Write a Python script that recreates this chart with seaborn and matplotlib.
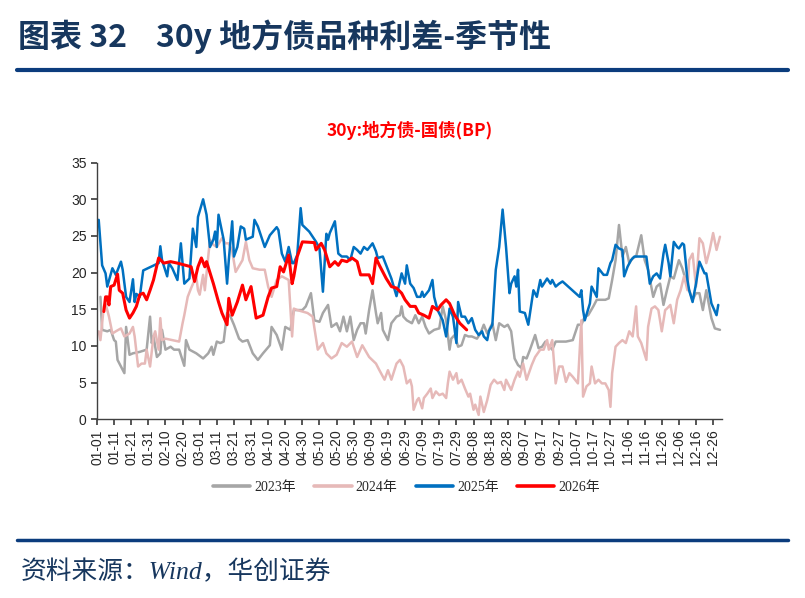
import numpy as np
import pandas as pd
import seaborn as sns
import matplotlib.pyplot as plt
import matplotlib.dates as mdates
from matplotlib.lines import Line2D

# 日付は 01-01 からの経過日数（x軸は閏年2024の暦で表示）
days_2023 = [2, 3, 6, 8, 10, 11, 12, 14, 16, 17, 19, 21, 25, 29, 31, 32, 33, 35, 37, 38, 40, 43, 45, 48,
             51, 52, 54, 58, 62, 65, 67, 68, 70, 72, 74, 76, 78, 80, 83, 85, 88, 91, 94, 97, 101, 102,
             105, 108, 110, 113, 115, 117, 120, 122, 125, 127, 130, 132, 135, 137, 140, 142, 144, 146,
             148, 150, 152, 154, 156, 157, 159, 161, 163, 164, 166, 167, 170, 172, 175, 177, 178, 179,
             181, 184, 186, 188, 190, 192, 194, 197, 200, 202, 204, 206, 207, 209, 211, 213, 215, 217,
             219, 222, 224, 226, 228, 231, 233, 235, 238, 240, 242, 244, 246, 248, 249, 251, 253, 256,
             258, 260, 262, 266, 268, 274, 278, 281, 283, 285, 287, 290, 292, 297, 299, 301, 303, 305,
             307, 309, 311, 313, 315, 318, 320, 322, 325, 327, 329, 331, 333, 335, 337, 340, 342, 344,
             346, 348, 350, 352, 354, 356, 359, 361, 364]
vals_2023 = [16.7, 12.2, 12, 12.2, 10.8, 10.6, 8.1, 7.2, 6.3, 12.6, 8.8, 9, 9.2, 9.5, 14, 10.4, 11.3, 8.5,
             9, 12.2, 9.5, 9.9, 9.5, 9.5, 7.3, 10.8, 9.5, 9, 8.3, 9, 9.9, 8.8, 10.6, 10.4, 10.6, 14.5,
             14, 12.9, 11, 10.6, 10.8, 9, 8.1, 9, 10.1, 12.6, 11.5, 9.5, 12.6, 12.2, 14.9, 14.9, 14.9,
             15.4, 17.2, 13.5, 13.3, 14.5, 15.6, 12.6, 13.1, 12, 14, 12, 14, 10.8, 12.2, 13.1, 13.1,
             11.7, 14.9, 17.6, 14.5, 13.1, 14.5, 12.2, 10.8, 13.1, 14, 14.2, 15.4, 14, 13.5, 13.1, 14.2,
             13.1, 14, 12.6, 11.7, 12.2, 12.4, 15.4, 13.5, 9.5, 11, 11.5, 9.9, 10.1, 11.5, 11.3, 11.3,
             11, 11.7, 12.9, 11.7, 13.1, 10.8, 13.1, 12.6, 12.9, 12, 8.3, 7.4, 7, 8.5, 8.3, 9.5, 11.5,
             9.7, 9.9, 10.6, 9.5, 10.6, 10.6, 10.8, 12.9, 12.9, 14, 14.2, 15.4, 16.3, 16.3, 16.5, 19,
             21.7, 26.5, 22.2, 23.5, 21.3, 22, 22.2, 25.1, 21.7, 20.4, 16.7, 18.1, 18.5, 15.6, 17.6,
             19.5, 19.2, 21.7, 20.6, 19, 17.6, 16.3, 17.2, 17.2, 14.9, 17.6, 13.8, 12.4, 12.2]

days_2024 = [1, 2, 4, 5, 7, 9, 11, 14, 16, 19, 21, 22, 24, 26, 28, 29, 31, 33, 34, 36, 37, 38, 40, 48,
             50, 51, 53, 55, 58, 59, 60, 62, 63, 64, 66, 68, 70, 73, 75, 77, 79, 81, 85, 87, 89, 91, 95,
             98, 100, 102, 105, 108, 112, 114, 115, 117, 120, 123, 126, 129, 132, 134, 137, 140, 143,
             146, 149, 152, 155, 159, 163, 165, 168, 170, 172, 175, 177, 179, 181, 183, 184, 185, 187,
             188, 190, 191, 193, 195, 196, 198, 200, 202, 204, 205, 206, 208, 210, 211, 213, 215, 217,
             218, 220, 221, 223, 224, 226, 228, 230, 232, 234, 236, 238, 239, 242, 244, 246, 247, 249,
             251, 254, 256, 259, 261, 263, 264, 266, 268, 270, 272, 274, 276, 278, 281, 283, 284, 286,
             288, 289, 291, 293, 295, 297, 299, 300, 301, 303, 305, 307, 309, 311, 313, 315, 316, 318,
             321, 322, 324, 326, 328, 330, 332, 333, 335, 337, 339, 341, 343, 345, 346, 348, 350, 352,
             354, 356, 358, 360, 362, 364]
vals_2024 = [12, 10.8, 15.4, 15.8, 14, 11.7, 12, 12.4, 11.3, 11.7, 12.6, 11.3, 7.2, 7.6, 7.6, 9.5, 7.2,
             11.3, 12, 9.5, 13.8, 10.8, 11, 10.6, 13.1, 14.2, 16.7, 17.9, 19.5, 17.6, 17, 19.7, 17.6,
             19.9, 24.5, 23.8, 23.5, 24.7, 24, 24, 22.9, 20.1, 21.7, 24.2, 21.7, 20.6, 20.4, 20.4, 18.1,
             16.7, 19, 19.5, 19, 11.3, 15.1, 14.9, 14.7, 14.5, 14, 9.5, 10.4, 9, 8.3, 8.8, 10.4, 9.9,
             10.6, 8.5, 10.1, 8.5, 7.6, 6.7, 5.4, 6.7, 5.4, 7.6, 8.1, 7.2, 4.9, 5.4, 4.5, 1.3, 2.6, 2.9,
             1.5, 2.9, 3.5, 4.2, 2.9, 3.8, 3.3, 3.5, 2.9, 4.9, 6.5, 5.4, 6.3, 4.9, 5.4, 4.2, 3.1, 3.5,
             1.3, 2, 0.6, 3.1, 1, 2.6, 4.7, 5.4, 4.9, 5.1, 4, 5.4, 4, 5.4, 6.5, 5.8, 7.6, 5.4, 7.4, 8.5,
             9.5, 9.5, 10.8, 9.5, 10.8, 4.9, 7.2, 7.2, 5.1, 6.3, 5.8, 4.9, 13.5, 3.1, 4.5, 4.9, 7.2,
             4.9, 5.4, 4.9, 4.9, 4, 1.7, 6.3, 9.9, 10.4, 10.8, 10.4, 12, 11.3, 15.4, 11.3, 10.4, 8.1,
             12.6, 15.1, 15.4, 14.9, 12, 14.9, 15.1, 15.6, 13.1, 16.3, 17.6, 19.5, 17.6, 21.7, 22.6,
             18.1, 24.7, 24, 21.3, 23.1, 25.4, 23.1, 24.9]

days_2025 = [1, 3, 5, 6, 9, 11, 14, 15, 17, 19, 21, 22, 23, 25, 27, 36, 37, 38, 41, 42, 44, 47, 49, 51,
             54, 56, 58, 59, 62, 64, 66, 68, 69, 70, 71, 74, 76, 77, 79, 80, 82, 84, 86, 87, 91, 92, 94,
             98, 101, 105, 106, 108, 110, 112, 114, 115, 117, 119, 120, 124, 128, 130, 132, 134, 135,
             136, 139, 141, 143, 146, 148, 150, 152, 154, 156, 158, 161, 163, 164, 167, 169, 172, 175,
             178, 180, 181, 183, 185, 187, 189, 190, 191, 194, 196, 197, 199, 202, 204, 206, 208, 210,
             211, 213, 215, 217, 219, 221, 223, 225, 226, 228, 229, 231, 233, 235, 237, 239, 241, 242,
             244, 245, 246, 247, 250, 252, 255, 257, 259, 260, 263, 265, 266, 268, 270, 272, 282, 283,
             284, 285, 288, 289, 292, 293, 296, 298, 300, 301, 303, 305, 307, 308, 310, 312, 314, 321,
             323, 325, 327, 329, 331, 332, 334, 335, 337, 339, 340, 342, 343, 345, 346, 348, 350, 352,
             355, 356, 359, 362, 363]
vals_2025 = [27.2, 21, 19.9, 18.1, 20.6, 19.7, 21.5, 20.4, 16.7, 16, 19.1, 16, 17.1, 16.7, 20.3, 21.3,
             23.6, 21.7, 19.5, 21.3, 20.6, 19, 24, 18.5, 19.2, 26, 23.5, 27.6, 30, 27.9, 23.5, 24.5,
             25.6, 23.5, 27.9, 24.5, 18.5, 21.7, 27, 22.2, 23.5, 26.3, 26, 24.5, 24.9, 27.2, 26.3, 23.5,
             25.1, 26.2, 25.8, 22.6, 21.5, 23.5, 21.3, 21.3, 22.4, 28.8, 26.5, 25.6, 24.2, 23.3, 17.4,
             25.3, 24.5, 25.4, 27, 22.6, 22.2, 22.2, 21.7, 23.5, 23.1, 22.6, 23.5, 23.1, 24, 22.9, 22,
             22.2, 21, 19.2, 16.8, 19.9, 18.5, 21, 18.5, 17.9, 16.7, 16.7, 17.4, 16.7, 17.6, 19, 16.7,
             14.9, 13.5, 11.3, 15.1, 14, 10.4, 16, 14, 14, 13.1, 13.8, 12.2, 11.5, 12, 11.3, 10.8, 12,
             12.9, 20.4, 23.5, 28.6, 23.5, 17.2, 18.5, 19.5, 18.1, 20.4, 14.7, 14.5, 12.9, 17.6, 16.7,
             19, 18.1, 19.2, 18.5, 19, 18.1, 18.5, 18.8, 16.7, 17.6, 14.9, 13.5, 15.8, 18.1, 16.7, 20.6,
             19.7, 19.7, 21.3, 21.7, 23.8, 23.3, 23.1, 19.5, 20.8, 21.7, 22.2, 22.2, 18.5, 19.5, 19.9,
             19.2, 22.6, 23.8, 21.3, 19.5, 24.2, 23.5, 23.3, 24, 23.8, 19, 17.6, 16, 18.5, 21.5, 19.9,
             19.9, 15.8, 14.2, 15.6]

days_2026 = [4, 5, 6, 7, 8, 10, 12, 13, 15, 17, 19, 21, 23, 25, 27, 29, 31, 33, 36, 39, 43, 47, 55, 57,
             59, 61, 63, 64, 68, 71, 73, 76, 77, 79, 82, 85, 87, 90, 93, 97, 100, 102, 105, 107, 109,
             112, 114, 115, 117, 120, 127, 128, 131, 133, 136, 139, 141, 143, 146, 149, 152, 154, 159,
             161, 163, 165, 169, 172, 175, 178, 180, 183, 186, 188, 191, 194, 196, 199, 201, 204, 206,
             209, 212, 216]
vals_2026 = [14.7, 16.7, 16.7, 15.6, 18.1, 18.3, 19.8, 17.6, 17.2, 14.9, 13.8, 14.5, 15.4, 17, 17.2,
             16.3, 17.6, 19, 22, 21.3, 21.5, 21.3, 20.8, 18.8, 20.8, 22, 20.8, 21.5, 18.5, 16, 14.5,
             12.9, 16.5, 14.2, 16, 18.3, 16.3, 18.1, 13.8, 14.2, 16.7, 17.9, 18.1, 20.8, 20.1, 22.4,
             18.5, 19.5, 22.2, 24.2, 24.1, 23.1, 24, 23.1, 20.8, 21.5, 21, 21.7, 21.5, 22, 21.5, 19.7,
             19.7, 18.5, 22, 21, 19.2, 18.1, 17.9, 17.2, 16.3, 15.4, 15.4, 14.5, 14.2, 13.8, 15.4, 14.9,
             15.6, 16.3, 15.8, 14.2, 13.1, 12.2]

years = ['2023年', '2024年', '2025年', '2026年']
colors = ['#A6A6A6', '#E6B9B8', '#0070C0', '#FF0000']
tick_labels_start = '2024-01-01'

base = pd.Timestamp(tick_labels_start)
frames = []
for y, d, v in zip(years, [days_2023, days_2024, days_2025, days_2026],
                   [vals_2023, vals_2024, vals_2025, vals_2026]):
    frames.append(pd.DataFrame({'date': base + pd.to_timedelta(d, unit='D'), 'value': v, 'year': y}))
df = pd.concat(frames, ignore_index=True)

sns.set_theme(style='white')
plt.rcParams['font.family'] = ['Liberation Sans', 'Noto Sans CJK SC']

navy = '#17375E'
fig = plt.figure(figsize=(8.05, 5.98), dpi=100)

# 見出しと出所
fig.text(0.022, 1 - 37 / 598, '图表 32    30y 地方债品种利差-季节性', fontsize=23, fontweight='bold',
         color=navy, va='center', ha='left', family=['Noto Sans CJK SC', 'DejaVu Sans'])
fig.add_artist(Line2D([0.021, 0.979], [1 - 70 / 598] * 2, color='#0B3C7D', linewidth=3))
fig.add_artist(Line2D([0.021, 0.979], [1 - 540 / 598] * 2, color='#0B3C7D', linewidth=2.5))
fig.text(0.026, 1 - 572 / 598, '资料来源：Wind，华创证券', fontsize=18.5, style='italic',
         color=navy, va='center', ha='left', family=['Liberation Serif', 'Noto Sans CJK SC'])

ax = fig.add_axes([0.1205, 0.2988, 0.776, 0.4292])
sns.lineplot(data=df, x='date', y='value', hue='year', hue_order=years, palette=colors,
             estimator=None, linewidth=1.8, ax=ax, legend=False)
ax.lines[3].set_linewidth(2.2)

ax.set_title('30y:地方债-国债(BP)', color='#FF0000', fontsize=12.5, fontweight='bold', pad=19,
             family=['Noto Sans CJK SC', 'DejaVu Sans'])

ticks = pd.date_range(tick_labels_start, '2024-12-31', freq='10D')
ax.set_xticks(ticks)
ax.xaxis.set_major_formatter(mdates.DateFormatter('%m-%d'))
ax.set_xlim(pd.Timestamp(tick_labels_start), pd.Timestamp('2024-12-31'))
ax.set_ylim(0, 35)
ax.set_yticks(range(0, 36, 5))
ax.tick_params(axis='x', rotation=90, labelsize=10, length=4, bottom=True, color='#404040')
ax.tick_params(axis='y', labelsize=10, length=4, left=True, color='#404040')
ax.set_xlabel('')
ax.set_ylabel('')
sns.despine(ax=ax)
for s in ['left', 'bottom']:
    ax.spines[s].set_color('#404040')
    ax.spines[s].set_linewidth(1)

handles = [Line2D([], [], color=c, linewidth=2.6) for c in colors]
fig.legend(handles, years, loc='center', bbox_to_anchor=(0.505, 1 - 487 / 598), ncol=4,
           frameon=False, handlelength=2.7, handletextpad=0.3, columnspacing=1.3,
           prop={'family': ['Liberation Serif', 'Noto Sans CJK SC'], 'size': 10})

fig.savefig('out.png', dpi=100)
